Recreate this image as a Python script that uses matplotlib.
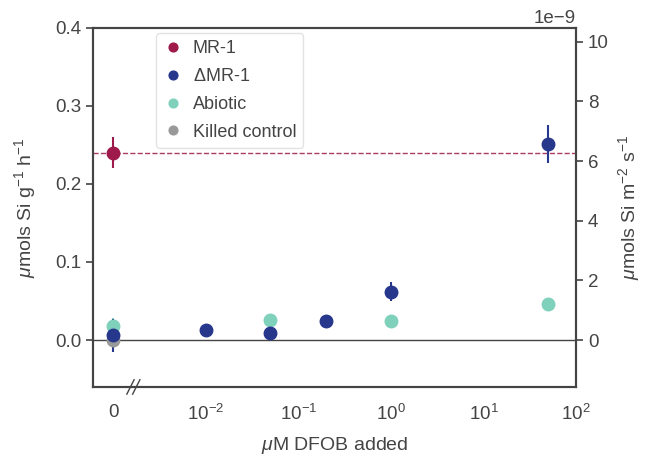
import numpy as np
import matplotlib.pyplot as plt

plt.rcParams['font.family'] = ['Liberation Sans', 'DejaVu Sans']
plt.rcParams['mathtext.fontset'] = 'custom'
plt.rcParams['mathtext.rm'] = 'Liberation Sans'
plt.rcParams['mathtext.it'] = 'Liberation Sans:italic'
plt.rcParams['text.color'] = '#444444'
plt.rcParams['axes.labelcolor'] = '#444444'
plt.rcParams['xtick.color'] = '#444444'
plt.rcParams['ytick.color'] = '#444444'

# 0 uM is drawn at 1e-3 on the log axis and labelled "0"
zero_pos = 1e-3

mr1_x = [0]
mr1_y = [0.24]
mr1_err = [0.02]

dmr1_x = [0, 0.01, 0.05, 0.2, 1, 50]
dmr1_y = [0.006, 0.013, 0.009, 0.024, 0.062, 0.251]
dmr1_err = [0.021, 0.003, 0.005, 0.003, 0.012, 0.024]

abiotic_x = [0, 0.05, 1, 50]
abiotic_y = [0.018, 0.026, 0.024, 0.046]
abiotic_err = [0.01, 0.003, 0.003, 0.003]

killed_x = [0]
killed_y = [0.0]
killed_err = [0.004]

xticks = [zero_pos, 1e-2, 1e-1, 1e0, 1e1, 1e2]
xlabels = ['0', r'$10^{-2}$', r'$10^{-1}$', r'$10^{0}$', r'$10^{1}$', r'$10^{2}$']

# conversion to the right-hand unit
k = 2.62e-8


def pos(xs):
    return [zero_pos if v == 0 else v for v in xs]


fig, ax = plt.subplots(figsize=(6.46, 4.59), dpi=100)
fig.subplots_adjust(left=0.144, right=0.892, top=0.94, bottom=0.157)

ax.axhline(0, color='#444444', lw=1, zorder=1)
ax.axhline(mr1_y[0], color='#9e1a4a', lw=1, ls='--', alpha=0.85, zorder=1)

series = [
    (killed_x, killed_y, killed_err, '#999999', 'Killed control'),
    (abiotic_x, abiotic_y, abiotic_err, '#7fd1bc', 'Abiotic'),
    (dmr1_x, dmr1_y, dmr1_err, '#26378c', r'$\Delta$MR-1'),
    (mr1_x, mr1_y, mr1_err, '#9e1a4a', 'MR-1'),
]
handles = {}
for xs, ys, es, c, lab in series:
    h = ax.errorbar(pos(xs), ys, yerr=es, fmt='o', color=c, ms=9,
                    elinewidth=1.5, capsize=0, label=lab, zorder=3)
    handles[lab] = h

ax.set_xscale('log')
ax.set_xlim(10 ** -3.216, 1e2)
ax.set_ylim(-0.06, 0.4)
ax.set_xticks(xticks)
ax.set_xticklabels(xlabels)
ax.minorticks_off()
ax.tick_params(axis='x', length=0, labelsize=13.5, pad=12)
ax.tick_params(axis='y', length=5, width=1.2, labelsize=13.5)
ax.set_yticks([0.0, 0.1, 0.2, 0.3, 0.4])
ax.set_xlabel(r'$\mu$M DFOB added', fontsize=14, labelpad=8)
ax.set_ylabel(r'$\mu$mols Si g$^{-1}$ h$^{-1}$', fontsize=14, labelpad=12)
for s in ax.spines.values():
    s.set_color('#444444')
    s.set_linewidth(1.5)

# break marks on the bottom spine
for dx in (0, 0.012):
    ax.plot([0.07 + dx, 0.085 + dx], [-0.02, 0.02], transform=ax.transAxes,
            color='#444444', lw=1, clip_on=False, zorder=5)

order = ['MR-1', r'$\Delta$MR-1', 'Abiotic', 'Killed control']
leg = ax.legend([handles[o][0] for o in order], order, loc='upper left',
                bbox_to_anchor=(0.12, 1.0), fontsize=13, markerscale=0.7,
                handlelength=1.0, handletextpad=0.6, labelspacing=0.6,
                frameon=True, borderaxespad=0.3)
leg.get_frame().set_edgecolor('#dddddd')

ax2 = ax.twinx()
ax2.set_ylim(-0.06 * k, 0.4 * k)
ax2.set_yticks([0, 2e-9, 4e-9, 6e-9, 8e-9, 10e-9])
ax2.ticklabel_format(axis='y', style='sci', scilimits=(-9, -9))
ax2.tick_params(axis='y', length=5, width=1.2, labelsize=13.5)
ax2.yaxis.get_offset_text().set_fontsize(13.5)
ax2.set_ylabel(r'$\mu$mols Si m$^{-2}$ s$^{-1}$', fontsize=14, labelpad=5)
for s in ax2.spines.values():
    s.set_color('#444444')
    s.set_linewidth(1.5)

fig.savefig('out.png', dpi=100)
